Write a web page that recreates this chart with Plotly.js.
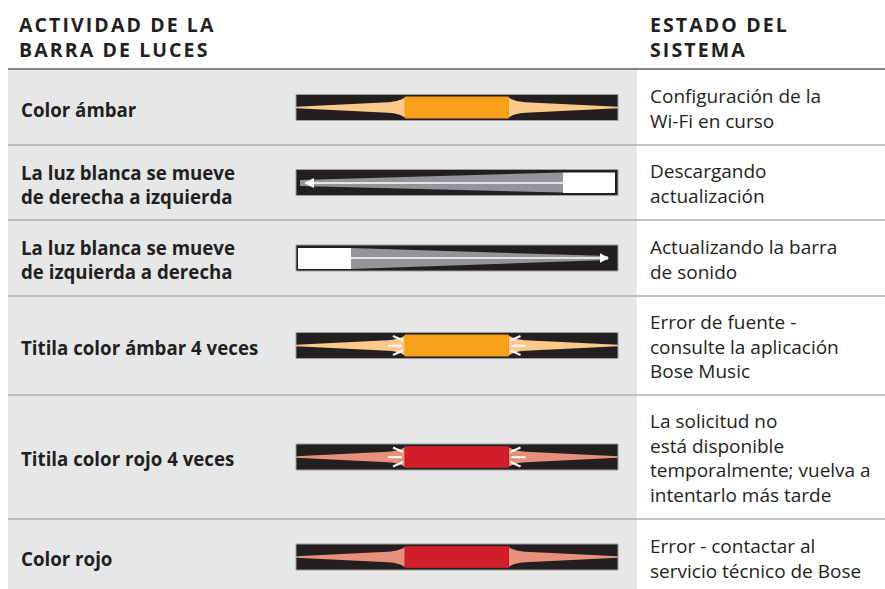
<!DOCTYPE html>
<html>
<head>
<meta charset="utf-8">
<script src="https://cdn.plot.ly/plotly-3.0.1.min.js"></script>
<style>
html,body{margin:0;padding:0;background:#ffffff;}
#chart{width:885px;height:589px;}
g.annotation[data-index="0"] text,
g.annotation[data-index="1"] text{letter-spacing:2.1px;}
</style>
</head>
<body>
<div id="chart"></div>
<script>
// ---------- data ----------
const headerLeft = ["ACTIVIDAD DE LA", "BARRA DE LUCES"];
const headerRight = ["ESTADO DEL", "SISTEMA"];
const activities = [
  ["Color ámbar"],
  ["La luz blanca se mueve", "de derecha a izquierda"],
  ["La luz blanca se mueve", "de izquierda a derecha"],
  ["Titila color ámbar 4 veces"],
  ["Titila color rojo 4 veces"],
  ["Color rojo"]
];
const systemStates = [
  ["Configuración de la", "Wi-Fi en curso"],
  ["Descargando", "actualización"],
  ["Actualizando la barra", "de sonido"],
  ["Error de fuente -", "consulte la aplicación", "Bose Music"],
  ["La solicitud no", "está disponible", "temporalmente; vuelva a", "intentarlo más tarde"],
  ["Error - contactar al", "servicio técnico de Bose"]
];
const lightPatterns = ["steady", "sweepLeft", "sweepRight", "blink", "blink", "steady"];
const lightColors = ["amber", "white", "white", "amber", "red", "red"];

// ---------- styles / layout constants ----------
const W = 885, H = 589;
const rowEdges = [70, 145, 220, 296, 395, 519, 595];
const TEXT = "#231f20";
const FONT = "Open Sans, Noto Sans, sans-serif";
const palette = {
  amber: {core: "#f9a11b", edge: "#f0971a", glow: "#fdc98b"},
  red:   {core: "#d21f2b", edge: "#b81c26", glow: "#e8907c"},
  white: {core: "#ffffff", edge: "#ffffff", glow: "#939598"}
};
const BAR_X0 = 296, BAR_X1 = 618, MID = 913.5; // MID: mirror axis*2
const CORE_X0 = 405, CORE_X1 = 508.5;

const shapes = [];
const annotations = [];

function rect(x0, y0, x1, y1, fill, line, lw) {
  shapes.push({type: "rect", xref: "x", yref: "y", x0, y0, x1, y1,
    fillcolor: fill, line: {color: line || fill, width: lw || 0}, layer: "above"});
}
function path(d, fill) {
  shapes.push({type: "path", xref: "x", yref: "y", path: d, fillcolor: fill,
    line: {width: 0}, layer: "above"});
}
function line(x0, y0, x1, y1, color, w) {
  shapes.push({type: "line", xref: "x", yref: "y", x0, y0, x1, y1,
    line: {color, width: w}, layer: "above"});
}
function text(x, y, lines, size, bold) {
  const s = lines.join("<br>");
  annotations.push({x, y, xref: "x", yref: "y", text: bold ? "<b>" + s + "</b>" : s,
    showarrow: false, xanchor: "left", yanchor: "middle", align: "left",
    borderpad: 0, borderwidth: 0,
    font: {family: FONT, size, color: TEXT, weight: bold ? 700 : 400}});
}

// backgrounds
rect(8, 70, 637, H + 10, "#e6e7e8");
rect(637, 70, W + 5, H + 10, "#ffffff");
// header rule
line(8, 69, W + 5, 69, "#58595b", 1.5);
// row separators
for (let i = 1; i < rowEdges.length - 1; i++) {
  line(8, rowEdges[i], W + 5, rowEdges[i], "#aeb0b2", 1.5);
}

// headers (annotations 0 and 1; letter-spaced via CSS)
text(19, 36.5, headerLeft, 19.5, true);
text(650, 36.5, headerRight, 19.5, true);

function glowLeft(c) {
  return `M ${CORE_X0} ${c - 10} C 400 ${c - 7} 396 ${c - 6} 388 ${c - 5.3} L ${BAR_X0} ${c - 0.7} L ${BAR_X0} ${c + 0.7} L 388 ${c + 5.3} C 396 ${c + 6} 400 ${c + 7} ${CORE_X0} ${c + 10} Z`;
}
function glowRight(c) {
  const m = x => MID - x;
  return `M ${m(CORE_X0)} ${c - 10} C ${m(400)} ${c - 7} ${m(396)} ${c - 6} ${m(388)} ${c - 5.3} L ${BAR_X1} ${c - 0.7} L ${BAR_X1} ${c + 0.7} L ${m(388)} ${c + 5.3} C ${m(396)} ${c + 6} ${m(400)} ${c + 7} ${m(CORE_X0)} ${c + 10} Z`;
}

activities.forEach((lines, r) => {
  const c = (rowEdges[r] + rowEdges[r + 1]) / 2;
  const col = palette[lightColors[r]];
  const pat = lightPatterns[r];

  // left labels and right descriptions
  text(20.5, c + 1.5, lines, 18.7, true);
  text(649.5, c + 1, systemStates[r], 19, false);

  // light bar body
  rect(BAR_X0, c - 13, BAR_X1, c + 13, "#231f20", "#9d9d9d", 1);

  if (pat === "steady" || pat === "blink") {
    path(glowLeft(c), col.glow);
    path(glowRight(c), col.glow);
    rect(CORE_X0, c - 10.5, CORE_X1, c + 10.5, col.core, col.edge, 1);
    if (pat === "blink") {
      const ticks = [[388, c + 0.2, 402, c + 0.2], [393, c - 9.5, 403, c - 5], [393, c + 9.5, 403, c + 5]];
      ticks.forEach(t => {
        line(t[0], t[1], t[2], t[3], "#ffffff", 2);
        line(MID - t[0], t[1], MID - t[2], t[3], "#ffffff", 2);
      });
    }
  } else if (pat === "sweepLeft") {
    path(`M 563 ${c - 10} L 300 ${c - 2.5} L 300 ${c + 3.5} L 563 ${c + 10} Z`, col.glow);
    rect(563, c - 10, 615, c + 10.5, col.core);
    line(312, c + 0.5, 563, c + 0.5, "#ffffff", 1.6);
    path(`M 304 ${c + 0.5} L 314 ${c - 4.5} L 314 ${c + 5.5} Z`, "#ffffff");
  } else if (pat === "sweepRight") {
    path(`M 351 ${c - 10} L 608 ${c - 2} L 608 ${c + 2} L 351 ${c + 11} Z`, col.glow);
    rect(298, c - 10, 351, c + 11, col.core);
    line(351, c, 600, c, "#ffffff", 1.6);
    path(`M 609 ${c} L 600 ${c - 4.7} L 600 ${c + 4.7} Z`, "#ffffff");
  }
});

const layout = {
  width: W, height: H,
  margin: {l: 0, r: 0, t: 0, b: 0, pad: 0},
  paper_bgcolor: "#ffffff", plot_bgcolor: "#ffffff",
  showlegend: false,
  xaxis: {range: [0, W], visible: false, fixedrange: true},
  yaxis: {range: [H, 0], visible: false, fixedrange: true},
  shapes, annotations
};
Plotly.newPlot("chart", [], layout, {displayModeBar: false, staticPlot: true});
</script>
</body>
</html>
